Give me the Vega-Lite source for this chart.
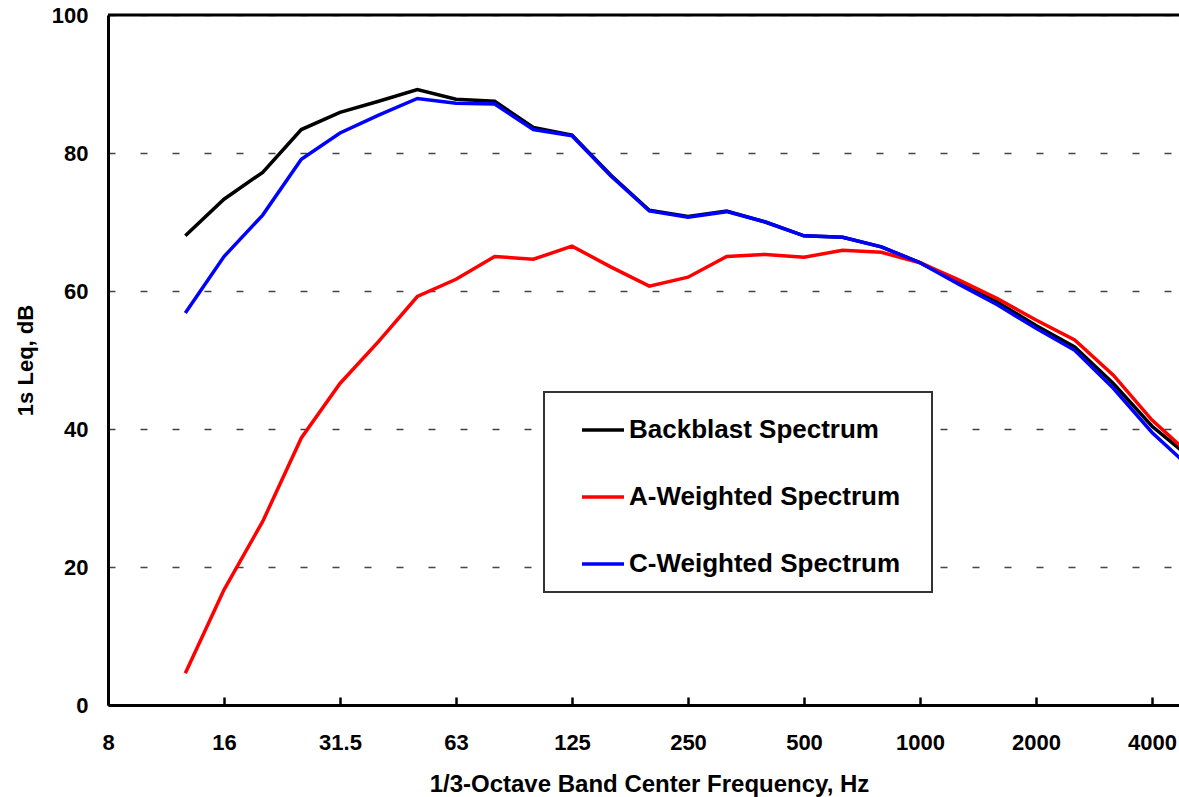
{
  "$schema": "https://vega.github.io/schema/vega-lite/v6.json",
  "width": 1071,
  "height": 690,
  "autosize": {"type": "none"},
  "padding": {"left": 108, "top": 15, "right": 0, "bottom": 92},
  "background": "white",
  "config": {
    "font": "Liberation Sans",
    "view": {"stroke": null},
    "legend": {"strokeWidth": 2}
  },
  "layer": [
    {
      "data": {"values": [
        {"f": 12.4, "s": "Backblast Spectrum", "db": 68.0},
        {"f": 15.625, "s": "Backblast Spectrum", "db": 73.3},
        {"f": 19.69, "s": "Backblast Spectrum", "db": 77.2},
        {"f": 24.8, "s": "Backblast Spectrum", "db": 83.4},
        {"f": 31.25, "s": "Backblast Spectrum", "db": 85.9},
        {"f": 39.37, "s": "Backblast Spectrum", "db": 87.5},
        {"f": 49.61, "s": "Backblast Spectrum", "db": 89.2},
        {"f": 62.5, "s": "Backblast Spectrum", "db": 87.8},
        {"f": 78.75, "s": "Backblast Spectrum", "db": 87.5},
        {"f": 99.21, "s": "Backblast Spectrum", "db": 83.7},
        {"f": 125, "s": "Backblast Spectrum", "db": 82.6},
        {"f": 157.5, "s": "Backblast Spectrum", "db": 76.8},
        {"f": 198.4, "s": "Backblast Spectrum", "db": 71.7},
        {"f": 250, "s": "Backblast Spectrum", "db": 70.8},
        {"f": 315, "s": "Backblast Spectrum", "db": 71.6},
        {"f": 396.9, "s": "Backblast Spectrum", "db": 70.0},
        {"f": 500, "s": "Backblast Spectrum", "db": 68.0},
        {"f": 630, "s": "Backblast Spectrum", "db": 67.8},
        {"f": 793.7, "s": "Backblast Spectrum", "db": 66.4},
        {"f": 1000, "s": "Backblast Spectrum", "db": 64.1},
        {"f": 1260, "s": "Backblast Spectrum", "db": 61.3},
        {"f": 1587, "s": "Backblast Spectrum", "db": 58.4},
        {"f": 2000, "s": "Backblast Spectrum", "db": 55.0},
        {"f": 2520, "s": "Backblast Spectrum", "db": 51.9},
        {"f": 3175, "s": "Backblast Spectrum", "db": 46.6},
        {"f": 4000, "s": "Backblast Spectrum", "db": 40.4},
        {"f": 5040, "s": "Backblast Spectrum", "db": 35.8},
        {"f": 12.4, "s": "A-Weighted Spectrum", "db": 4.6},
        {"f": 15.625, "s": "A-Weighted Spectrum", "db": 16.7},
        {"f": 19.69, "s": "A-Weighted Spectrum", "db": 26.6},
        {"f": 24.8, "s": "A-Weighted Spectrum", "db": 38.7},
        {"f": 31.25, "s": "A-Weighted Spectrum", "db": 46.6},
        {"f": 39.37, "s": "A-Weighted Spectrum", "db": 52.7},
        {"f": 49.61, "s": "A-Weighted Spectrum", "db": 59.2},
        {"f": 62.5, "s": "A-Weighted Spectrum", "db": 61.7},
        {"f": 78.75, "s": "A-Weighted Spectrum", "db": 65.0},
        {"f": 99.21, "s": "A-Weighted Spectrum", "db": 64.6},
        {"f": 125, "s": "A-Weighted Spectrum", "db": 66.5},
        {"f": 157.5, "s": "A-Weighted Spectrum", "db": 63.5},
        {"f": 198.4, "s": "A-Weighted Spectrum", "db": 60.7},
        {"f": 250, "s": "A-Weighted Spectrum", "db": 62.0},
        {"f": 315, "s": "A-Weighted Spectrum", "db": 65.0},
        {"f": 396.9, "s": "A-Weighted Spectrum", "db": 65.3},
        {"f": 500, "s": "A-Weighted Spectrum", "db": 64.9},
        {"f": 630, "s": "A-Weighted Spectrum", "db": 65.9},
        {"f": 793.7, "s": "A-Weighted Spectrum", "db": 65.6},
        {"f": 1000, "s": "A-Weighted Spectrum", "db": 64.1},
        {"f": 1260, "s": "A-Weighted Spectrum", "db": 61.6},
        {"f": 1587, "s": "A-Weighted Spectrum", "db": 58.9},
        {"f": 2000, "s": "A-Weighted Spectrum", "db": 55.8},
        {"f": 2520, "s": "A-Weighted Spectrum", "db": 52.9},
        {"f": 3175, "s": "A-Weighted Spectrum", "db": 47.8},
        {"f": 4000, "s": "A-Weighted Spectrum", "db": 41.3},
        {"f": 5040, "s": "A-Weighted Spectrum", "db": 36.2},
        {"f": 12.4, "s": "C-Weighted Spectrum", "db": 56.8},
        {"f": 15.625, "s": "C-Weighted Spectrum", "db": 65.0},
        {"f": 19.69, "s": "C-Weighted Spectrum", "db": 71.0},
        {"f": 24.8, "s": "C-Weighted Spectrum", "db": 79.1},
        {"f": 31.25, "s": "C-Weighted Spectrum", "db": 82.9},
        {"f": 39.37, "s": "C-Weighted Spectrum", "db": 85.5},
        {"f": 49.61, "s": "C-Weighted Spectrum", "db": 87.9},
        {"f": 62.5, "s": "C-Weighted Spectrum", "db": 87.2},
        {"f": 78.75, "s": "C-Weighted Spectrum", "db": 87.1},
        {"f": 99.21, "s": "C-Weighted Spectrum", "db": 83.4},
        {"f": 125, "s": "C-Weighted Spectrum", "db": 82.5},
        {"f": 157.5, "s": "C-Weighted Spectrum", "db": 76.7},
        {"f": 198.4, "s": "C-Weighted Spectrum", "db": 71.6},
        {"f": 250, "s": "C-Weighted Spectrum", "db": 70.7},
        {"f": 315, "s": "C-Weighted Spectrum", "db": 71.5},
        {"f": 396.9, "s": "C-Weighted Spectrum", "db": 70.0},
        {"f": 500, "s": "C-Weighted Spectrum", "db": 68.0},
        {"f": 630, "s": "C-Weighted Spectrum", "db": 67.8},
        {"f": 793.7, "s": "C-Weighted Spectrum", "db": 66.4},
        {"f": 1000, "s": "C-Weighted Spectrum", "db": 64.1},
        {"f": 1260, "s": "C-Weighted Spectrum", "db": 61.0},
        {"f": 1587, "s": "C-Weighted Spectrum", "db": 58.0},
        {"f": 2000, "s": "C-Weighted Spectrum", "db": 54.6},
        {"f": 2520, "s": "C-Weighted Spectrum", "db": 51.4},
        {"f": 3175, "s": "C-Weighted Spectrum", "db": 45.9},
        {"f": 4000, "s": "C-Weighted Spectrum", "db": 39.5},
        {"f": 5040, "s": "C-Weighted Spectrum", "db": 34.3}
      ]},
      "mark": {"type": "line", "strokeWidth": 3.5, "clip": true},
      "encoding": {
        "x": {
          "field": "f",
          "type": "quantitative",
          "scale": {"type": "log", "domain": [7.8125, 4700], "nice": false},
          "axis": {
            "values": [7.8125, 15.625, 31.25, 62.5, 125, 250, 500, 1000, 2000, 4000],
            "labelExpr": "datum.value == 7.8125 ? '8' : datum.value == 15.625 ? '16' : datum.value == 31.25 ? '31.5' : datum.value == 62.5 ? '63' : '' + datum.value",
            "grid": false,
            "ticks": true,
            "tickSize": -8,
            "tickWidth": 2.5,
            "tickColor": "black",
            "domainColor": "black",
            "domainWidth": 3,
            "labelFontSize": 22,
            "labelFontWeight": "bold",
            "labelColor": "black",
            "labelPadding": 35,
            "labelFlush": false,
            "labelOverlap": false,
            "title": "1/3-Octave Band Center Frequency, Hz",
            "titleFontSize": 24,
            "titleFontWeight": "bold",
            "titleColor": "black",
            "titleBaseline": "alphabetic",
            "titleAnchor": null,
            "titleX": 541,
            "titleY": 86
          }
        },
        "y": {
          "field": "db",
          "type": "quantitative",
          "scale": {"domain": [0, 100], "nice": false},
          "axis": {
            "values": [0, 20, 40, 60, 80, 100],
            "grid": true,
            "gridDash": [7, 25],
            "gridColor": "#444444",
            "gridWidth": 1.5,
            "ticks": false,
            "domainColor": "black",
            "domainWidth": 3,
            "labelFontSize": 22,
            "labelFontWeight": "bold",
            "labelColor": "black",
            "labelPadding": 20,
            "title": "1s Leq, dB",
            "titleFontSize": 22,
            "titleFontWeight": "bold",
            "titleColor": "black",
            "titleAngle": -90,
            "titleAlign": "center",
            "titleBaseline": "alphabetic",
            "titleAnchor": null,
            "titleX": -76,
            "titleY": 345
          }
        },
        "color": {
          "field": "s",
          "type": "nominal",
          "scale": {
            "domain": ["Backblast Spectrum", "A-Weighted Spectrum", "C-Weighted Spectrum"],
            "range": ["#000000", "#ff0000", "#0000ff"]
          },
          "legend": {
            "orient": "none",
            "legendX": 436,
            "legendY": 377,
            "title": "\u00a0",
            "titleOrient": "right",
            "titleFontSize": 8,
            "titlePadding": 17,
            "symbolType": "stroke",
            "symbolSize": 1764,
            "symbolStrokeWidth": 3.5,
            "symbolOffset": 21,
            "labelFontSize": 26,
            "labelFontWeight": "bold",
            "labelColor": "black",
            "labelOffset": 3,
            "labelLimit": 400,
            "rowPadding": 31,
            "padding": 15,
            "strokeColor": "#333333",
            "fillColor": "white"
          }
        }
      }
    },
    {
      "data": {"values": [{"top": 100}]},
      "mark": {"type": "rule", "color": "black", "strokeWidth": 3},
      "encoding": {
        "y": {"field": "top", "type": "quantitative"}
      }
    }
  ]
}
